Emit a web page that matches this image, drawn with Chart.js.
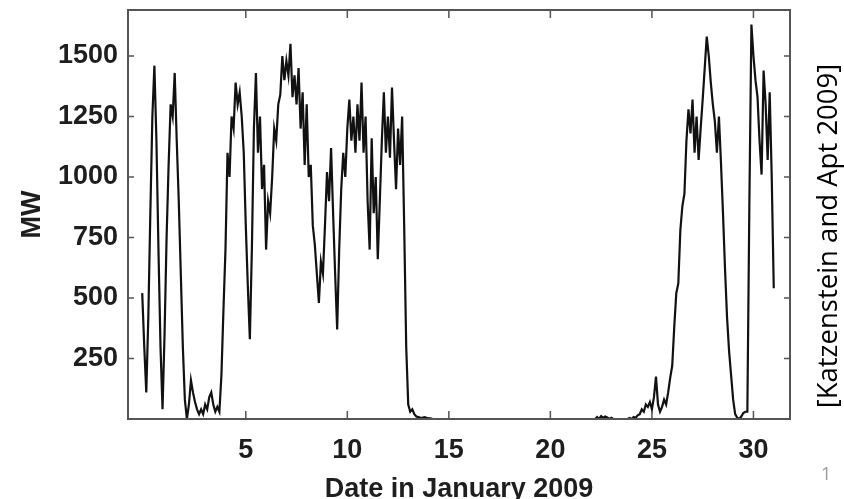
<!DOCTYPE html>
<html>
<head>
<meta charset="utf-8">
<title>Wind power output, January 2009</title>
<script src="https://cdn.jsdelivr.net/npm/chart.js@4.4.1/dist/chart.umd.min.js"></script>
<style>
  html, body { margin: 0; padding: 0; background: #fff; }
  #wrap { position: relative; width: 844px; height: 499px; overflow: hidden; }
  #cite {
    position: absolute; left: 827px; top: 236px;
    transform: translate(-50%, -50%) rotate(-90deg);
    font-family: 'Open Sans'; font-size: 27.5px; line-height: 1;
    white-space: nowrap; color: #000;
  }
  #pagenum {
    position: absolute; left: 821px; top: 461px;
    font-family: 'Open Sans'; font-size: 18px; color: #999;
  }
</style>
</head>
<body>
<div id="wrap">
  <canvas id="mycanvas" width="844" height="499"></canvas>
  <div id="cite">[Katzenstein and Apt 2009]</div>
  <div id="pagenum">1</div>
</div>
<script>
// sampled every 0.1 day, first sample at day -0.1
var firstDay = -0.1;
var stepDay = 0.1;

var megawatts = [
    520,
    300, 110, 420, 850, 1250, 1460, 1150, 700, 300, 40,      // 0
    350, 750, 1050, 1300, 1250, 1430, 1150, 900, 600, 300,   // 1
    80, 0, 60, 160, 110, 70, 40, 20, 40, 20,                 // 2
    60, 40, 90, 110, 60, 30, 50, 30, 180, 450,               // 3
    700, 1100, 1000, 1250, 1200, 1390, 1300, 1350, 1250, 1100, // 4
    800, 550, 330, 700, 1200, 1430, 1100, 1250, 950, 1050,   // 5
    700, 900, 850, 1000, 1200, 1150, 1300, 1340, 1500, 1400, // 6
    1480, 1420, 1550, 1330, 1420, 1300, 1450, 1200, 1350, 1050, // 7
    1300, 1000, 1050, 800, 720, 600, 480, 650, 600, 800,     // 8
    1020, 900, 1120, 850, 600, 370, 700, 950, 1100, 1000,    // 9
    1200, 1320, 1150, 1250, 1100, 1300, 1150, 1390, 1100, 1250, // 10
    900, 700, 1160, 850, 1000, 660, 900, 1150, 1350, 1100,   // 11
    1250, 1080, 1370, 1150, 950, 1200, 1050, 1250, 800, 300, // 12
    60, 30, 40, 20, 10, 8, 5, 5, 8, 5,                       // 13
    3, 3, 0, 0, 0, 0, 0, 0, 0, 0,                            // 14
    0, 0, 0, 0, 0, 0, 0, 0, 0, 0,                            // 15
    0, 0, 0, 0, 0, 0, 0, 0, 0, 0,                            // 16
    0, 0, 0, 0, 0, 0, 0, 0, 0, 0,                            // 17
    0, 0, 0, 0, 0, 0, 0, 0, 0, 0,                            // 18
    0, 0, 0, 0, 0, 0, 0, 0, 0, 0,                            // 19
    0, 0, 0, 0, 0, 0, 0, 0, 0, 0,                            // 20
    0, 0, 0, 0, 0, 0, 0, 0, 0, 0,                            // 21
    0, 0, 0, 8, 0, 12, 5, 10, 6, 0,                          // 22
    5, 0, 0, 0, 0, 0, 0, 0, 0, 4,                            // 23
    0, 8, 5, 15, 20, 40, 30, 60, 50, 70,                     // 24
    40, 90, 175, 60, 30, 50, 80, 60, 110, 170,               // 25
    220, 380, 520, 560, 780, 880, 930, 1150, 1280, 1180,     // 26
    1320, 1100, 1250, 1070, 1200, 1320, 1450, 1580, 1500, 1390, // 27
    1300, 1230, 1100, 1250, 1060, 850, 620, 420, 280, 180,   // 28
    80, 20, 5, 0, 10, 25, 30, 30, 900, 1630,                 // 29
    1500, 1400, 1330, 1150, 1010, 1440, 1300, 1070, 1350, 1000, // 30
    540                                                      // 31
];

var xTicks = [5, 10, 15, 20, 25, 30];
var yTicks = [250, 500, 750, 1000, 1250, 1500];
var xTitle = 'Date in January 2009';
var yTitle = 'MW';

var textColor = '#1e1e1e';
var boldFont = { family: 'Liberation Sans', size: 27, weight: 'bold' };

var points = megawatts.map(function (mw, i) {
    return { x: Math.round((firstDay + i * stepDay) * 10) / 10, y: mw };
});

// box round the plot with short inward ticks on all four sides
var framePlugin = {
    id: 'frame',
    afterDatasetsDraw: function (chart) {
        var ctx = chart.ctx;
        var a = chart.chartArea;
        var xs = chart.scales.x;
        var ys = chart.scales.y;
        ctx.save();
        ctx.strokeStyle = '#555';
        ctx.lineWidth = 2;
        ctx.strokeRect(a.left, a.top, a.right - a.left, a.bottom - a.top);
        ctx.lineWidth = 1.5;
        ctx.beginPath();
        xTicks.forEach(function (v) {
            var px = xs.getPixelForValue(v);
            ctx.moveTo(px, a.bottom); ctx.lineTo(px, a.bottom - 8);
            ctx.moveTo(px, a.top); ctx.lineTo(px, a.top + 8);
        });
        yTicks.forEach(function (v) {
            var py = ys.getPixelForValue(v);
            ctx.moveTo(a.left, py); ctx.lineTo(a.left + 6, py);
            ctx.moveTo(a.right, py); ctx.lineTo(a.right - 6, py);
        });
        ctx.stroke();
        ctx.restore();
    }
};

var ctx_live = document.getElementById('mycanvas');

var myChart = new Chart(ctx_live, {
    type: 'line',
    data: {
        datasets: [{
            data: points,
            borderColor: '#111',
            borderWidth: 2.2,
            borderJoinStyle: 'miter',
            pointRadius: 0,
            fill: false,
            tension: 0
        }]
    },
    options: {
        responsive: false,
        animation: false,
        devicePixelRatio: 1,
        layout: { padding: { top: 10, right: 54, left: 0, bottom: 0 } },
        plugins: {
            legend: { display: false },
            tooltip: { enabled: false }
        },
        scales: {
            x: {
                type: 'linear',
                min: -0.8,
                max: 31.8,
                afterBuildTicks: function (axis) {
                    axis.ticks = xTicks.map(function (v) { return { value: v }; });
                },
                afterFit: function (axis) {
                    axis.height = 80;
                    axis.paddingLeft = 0;
                    axis.paddingRight = 0;
                },
                grid: { display: false, drawTicks: false },
                border: { display: false },
                ticks: {
                    color: textColor, font: boldFont, padding: 15, maxRotation: 0, autoSkip: false,
                    callback: function (v) { return String(v); }
                },
                title: { display: true, text: xTitle, color: textColor, font: boldFont, padding: { top: 0, bottom: -7 } }
            },
            y: {
                min: 0,
                max: 1690,
                afterBuildTicks: function (axis) {
                    axis.ticks = yTicks.map(function (v) { return { value: v }; });
                },
                afterFit: function (axis) {
                    axis.width = 128;
                    axis.paddingTop = 0;
                    axis.paddingBottom = 0;
                },
                grid: { display: false, drawTicks: false },
                border: { display: false },
                ticks: {
                    color: textColor, font: boldFont, padding: 10,
                    callback: function (v) { return String(v); }
                },
                title: { display: true, text: yTitle, color: textColor, font: boldFont, padding: { top: 16, bottom: 0 } }
            }
        }
    },
    plugins: [framePlugin]
});

myChart.update();
</script>
</body>
</html>
